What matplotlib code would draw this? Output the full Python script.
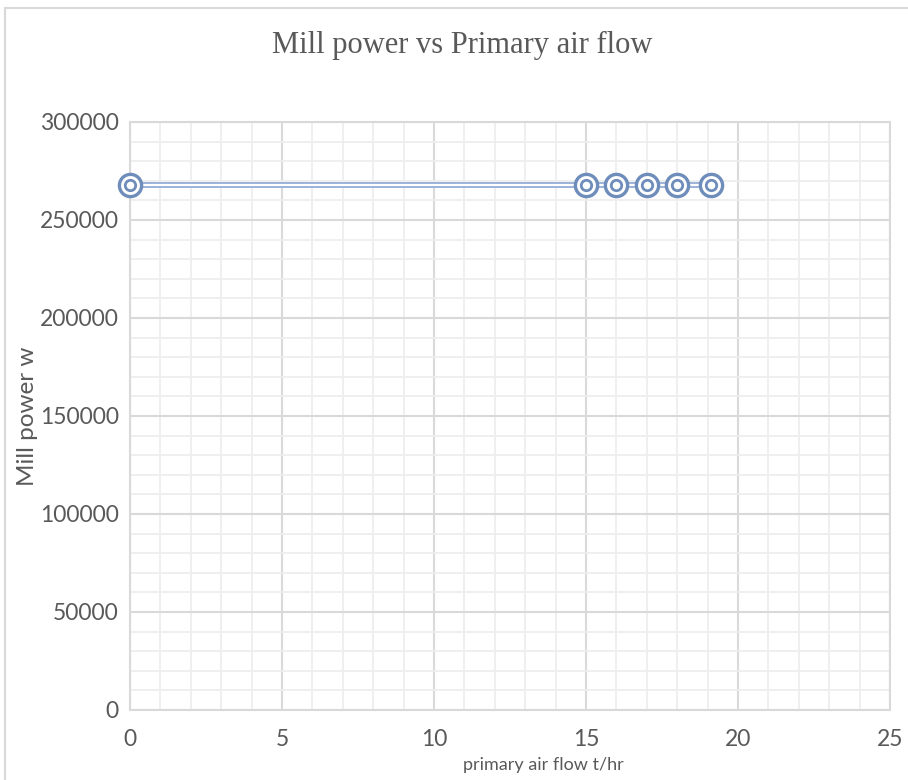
import numpy as np
import matplotlib.pyplot as plt
from matplotlib.patches import Rectangle
from matplotlib.ticker import MultipleLocator

# data
air_flow = [0, 15, 16, 17, 18, 19.1]
mill_power = [268000, 268000, 268000, 268000, 268000, 268000]

blue = '#6f8dbb'
line_blue = '#94aed6'
grey_text = '#595959'

plt.rcParams['font.family'] = ['Lato', 'DejaVu Sans']

fig = plt.figure(figsize=(9.08, 7.8), dpi=100)
W, H = 908, 780
ax = fig.add_axes([130 / W, 70 / H, 760 / W, 588 / H])

# outer chart border
fig.patches.append(Rectangle((5 / W, -0.05), 1.1, (H - 8) / H + 0.05,
                             transform=fig.transFigure, fill=False,
                             edgecolor='#d9d9d9', lw=1.5))

# compound (double) line
ax.plot(air_flow, mill_power, color=line_blue, lw=4.2, zorder=3, clip_on=False)
ax.plot(air_flow, mill_power, color='white', lw=1.6, zorder=3, clip_on=False)
# double-ring markers
ax.plot(air_flow, mill_power, ls='none', marker='o', ms=16, mfc='white',
        mec=blue, mew=2.4, zorder=4, clip_on=False)
ax.plot(air_flow, mill_power, ls='none', marker='o', ms=7.5, mfc='none',
        mec=blue, mew=2.0, zorder=5, clip_on=False)

ax.set_xlim(0, 25)
ax.set_ylim(0, 300000)
ax.xaxis.set_major_locator(MultipleLocator(5))
ax.xaxis.set_minor_locator(MultipleLocator(1))
ax.yaxis.set_major_locator(MultipleLocator(50000))
ax.yaxis.set_minor_locator(MultipleLocator(10000))
ax.grid(which='major', color='#d9d9d9', lw=1.5)
ax.grid(which='minor', color='#eeeeee', lw=1.3)
ax.set_axisbelow(True)
for s in ax.spines.values():
    s.set_color('#d9d9d9')
    s.set_linewidth(1.5)
ax.tick_params(which='both', length=0, colors=grey_text, labelsize=16.5)
ax.tick_params(axis='x', pad=14)
ax.tick_params(axis='y', pad=8)

fig.text(462 / W, 1 - 45 / H, 'Mill power vs Primary air flow',
         family='Liberation Serif', fontsize=22, color=grey_text,
         ha='center', va='center')
fig.text(543 / W, 1 - 765 / H, 'primary air flow t/hr', fontsize=13,
         color=grey_text, ha='center', va='center')
ax.set_ylabel('Mill power w', fontsize=17.5, color=grey_text)
ax.yaxis.set_label_coords(-92 / 760, 0.5)

fig.savefig('out.png', dpi=100)
